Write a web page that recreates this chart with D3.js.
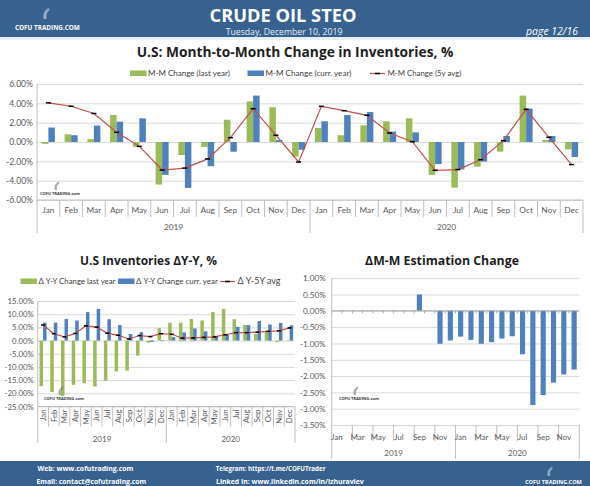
<!DOCTYPE html>
<html><head><meta charset="utf-8">
<script src="https://cdn.jsdelivr.net/npm/d3@7"></script>
<style>
body{margin:0;background:#fff;}
svg{display:block;}
</style></head>
<body>
<svg id="c" width="590" height="486"></svg>
<script>
// ---------- DATA ----------
const months = ["Jan","Feb","Mar","Apr","May","Jun","Jul","Aug","Sep","Oct","Nov","Dec"];
const years = ["2019","2020"];

// Chart 1: U.S: Month-to-Month Change in Inventories, %
const mmLastYear = [-0.2, 0.8, 0.3, 2.8, -0.5, -4.4, -1.35, -0.5, 2.3, 4.2, 3.6, -1.5,
                    1.45, 0.7, 1.72, 2.14, 2.45, -3.4, -4.72, -2.55, -1.0, 4.8, 0.2, -0.76];
const mmCurrYear = [1.5, 0.7, 1.7, 2.1, 2.45, -3.4, -4.75, -2.5, -1.0, 4.8, 0.2, -0.8,
                    2.14, 2.79, 3.1, 1.07, 1.0, -2.28, -2.83, -2.03, 0.62, 3.45, 0.62, -1.55];
const mm5yAvg    = [4.05, 3.7, 2.95, 1.0, -0.45, -2.9, -2.7, -1.75, 0.45, 3.45, 0.7, -2.07,
                    3.69, 3.24, 2.76, 0.93, 0.03, -2.93, -2.85, -1.83, 0.14, 3.38, 0.48, -2.34];
const mmTicks = [6, 4, 2, 0, -2, -4, -6];

// Chart 2: U.S Inventories ΔY-Y, %
const yyLastYear = [-17.3, -19.5, -21.0, -16.8, -16.2, -17.4, -15.2, -11.7, -11.4, -5.7, -0.8, 4.7,
                    6.8, 6.8, 8.2, 7.6, 10.8, 12.0, 8.1, 5.9, 2.5, 3.2, -0.5, 0.2];
const yyCurrYear = [6.8, 6.8, 8.2, 7.6, 10.8, 12.0, 8.1, 5.9, 2.5, 3.2, -0.5, 0.2,
                    1.3, 3.1, 4.6, 3.5, 1.8, 2.4, 5.2, 5.8, 7.4, 6.1, 6.7, 5.8];
const yy5yAvg    = [5.9, 2.6, 1.4, 2.7, 5.6, 5.1, 2.8, 2.0, 0.6, 1.9, 1.5, 2.6,
                    2.4, 0.9, 1.0, 1.2, 1.4, 2.2, 3.0, 3.0, 3.2, 3.5, 3.7, 4.8];
const yyTicks = [15, 10, 5, 0, -5, -10, -15, -20, -25];

// Chart 3: ΔM-M Estimation Change
const estChange = [0, 0, 0, 0, 0, 0, 0, 0, 0.5, 0, -1.01, -0.91,
                   -0.79, -0.89, -1.01, -0.96, -0.85, -0.78, -1.33, -2.89, -2.58, -2.2, -1.95, -1.8];
const estTicks = [1, 0.5, 0, -0.5, -1, -1.5, -2, -2.5, -3, -3.5];
const estLabelMonths = ["Jan", "Mar", "May", "Jul", "Sep", "Nov"];

// ---------- STYLE ----------
const GREEN = "#9bbb59", BLUE = "#4f81bd", RED = "#c0504d";
const HEAD = "#37618f";
const GRID = "#d9d9d9", AXIS = "#bfbfbf", LABEL = "#595959";
const FONT = "Lato, 'Liberation Sans', sans-serif";
const TFONT = "'Open Sans', 'Liberation Sans', sans-serif";

const cats = years.flatMap(y => months.map(m => y + "-" + m));
const svg = d3.select("#c");
const pct = d => (d < 0 ? "-" : "") + Math.abs(d).toFixed(2) + "%";

function fit(sel, w) {
  sel.each(function () {
    const cur = this.getComputedTextLength();
    const t = d3.select(this);
    if (cur > 0) t.attr("font-size", parseFloat(t.attr("font-size")) * w / cur);
  });
  return sel;
}

function swoosh(g, x, y, s, color) {
  for (let k = 0; k < 5; k++) {
    g.append("path")
      .attr("d", `M${x + k * 0.5 * s},${y} Q${x - 1.5 * s + k * 0.6 * s},${y - 6 * s} ${x + 4 * s + k * 0.3 * s},${y - 10 * s + k * 0.4 * s}`)
      .attr("fill", "none").attr("stroke", color).attr("stroke-width", 0.45 * s);
  }
}

function watermark(x, y) {
  const g = svg.append("g");
  swoosh(g, x + 15, y - 5, 0.85, "#777");
  g.append("text").attr("x", x).attr("y", y).attr("font-family", TFONT).attr("font-weight", 700)
    .attr("font-size", 4.6).attr("fill", "#333").text("COFU TRADING.com").call(fit, 40);
}

// ---------- HEADER / FOOTER ----------
svg.append("rect").attr("x", 0).attr("y", 0).attr("width", 590).attr("height", 37).attr("fill", HEAD);
svg.append("rect").attr("x", 0).attr("y", 37).attr("width", 590).attr("height", 3).attr("fill", "#e6eef7");
svg.append("text").attr("x", 283).attr("y", 22).attr("text-anchor", "middle").attr("fill", "#fff")
  .attr("font-family", TFONT).attr("font-weight", 700).attr("font-size", 19).text("CRUDE OIL STEO").call(fit, 147);
svg.append("text").attr("x", 284).attr("y", 34.5).attr("text-anchor", "middle").attr("fill", "#e8eef6")
  .attr("font-family", TFONT).attr("font-size", 8).text("Tuesday, December 10, 2019").call(fit, 117);
svg.append("text").attr("x", 578).attr("y", 34.5).attr("text-anchor", "end").attr("fill", "#fff")
  .attr("font-family", TFONT).attr("font-style", "italic").attr("font-size", 8).text("page 12/16").call(fit, 52);
swoosh(svg.append("g"), 44, 19, 1.1, "#cfd9e6");
svg.append("text").attr("x", 15).attr("y", 30).attr("fill", "#fff")
  .attr("font-family", TFONT).attr("font-weight", 700).attr("font-size", 6.5).text("COFU TRADING.COM").call(fit, 65);

svg.append("rect").attr("x", 0).attr("y", 461).attr("width", 590).attr("height", 25).attr("fill", HEAD);
const foot = [
  { t: "Web: www.cofutrading.com", x: 37.5, y: 470.5, w: 96 },
  { t: "Email: contact@cofutrading.com", x: 36.5, y: 484, w: 110 },
  { t: "Telegram: https://t.me/COFUTrader", x: 215.7, y: 470.5, w: 110 },
  { t: "Linked In: www.linkedin.com/in/izhuravlev", x: 216, y: 484, w: 148 },
  { t: "COFU TRADING.COM", x: 525, y: 483.5, w: 57 }
];
foot.forEach(f => svg.append("text").attr("x", f.x).attr("y", f.y).attr("fill", "#fff")
  .attr("font-family", TFONT).attr("font-weight", 700).attr("font-size", 7).text(f.t).call(fit, f.w));
swoosh(svg.append("g"), 548, 476, 0.9, "#cfd9e6");

// ---------- helpers ----------
function legendItem(g, x, y, type, color, label, tw, fs) {
  if (type === "bar") {
    g.append("rect").attr("x", x).attr("y", y - 3).attr("width", 16.5).attr("height", 5.5).attr("fill", color);
    g.append("text").attr("x", x + 18).attr("y", y + 2.8).attr("font-family", FONT).attr("font-size", fs)
      .attr("fill", "#404040").text(label).call(fit, tw);
  } else {
    g.append("line").attr("x1", x).attr("x2", x + 15).attr("y1", y).attr("y2", y).attr("stroke", RED).attr("stroke-width", 1.2);
    g.append("line").attr("x1", x + 5).attr("x2", x + 10).attr("y1", y).attr("y2", y).attr("stroke", "#000").attr("stroke-width", 1.5);
    g.append("text").attr("x", x + 17.5).attr("y", y + 2.8).attr("font-family", FONT).attr("font-size", fs)
      .attr("fill", "#404040").text(label).call(fit, tw);
  }
}

function yAxis(g, y, ticks, x0, x1, fs, pad) {
  const grid = g.append("g").attr("transform", `translate(${x0},0)`)
    .call(d3.axisLeft(y).tickValues(ticks).tickSize(-(x1 - x0)).tickFormat(""));
  grid.select(".domain").remove();
  grid.selectAll("line").attr("stroke", GRID).attr("stroke-width", 1);
  const lab = g.append("g").attr("transform", `translate(${x0},0)`)
    .call(d3.axisLeft(y).tickValues(ticks).tickSize(0).tickPadding(pad).tickFormat(pct));
  lab.select(".domain").remove();
  lab.selectAll("text").attr("font-family", FONT).attr("font-size", fs).attr("fill", LABEL);
}

function title(text, x, y, w) {
  svg.append("text").attr("x", x).attr("y", y).attr("text-anchor", "middle")
    .attr("font-family", TFONT).attr("font-weight", 700).attr("font-size", 14).attr("fill", "#1e1e1e")
    .text(text).call(fit, w);
}

function line(g, x, y, vals, markW) {
  const gen = d3.line().x((d, i) => x(cats[i]) + x.bandwidth() / 2).y(d => y(d));
  g.append("path").attr("d", gen(vals)).attr("fill", "none").attr("stroke", RED).attr("stroke-width", 1.2);
  g.selectAll(null).data(vals).join("line")
    .attr("x1", (d, i) => x(cats[i]) + x.bandwidth() / 2 - markW / 2)
    .attr("x2", (d, i) => x(cats[i]) + x.bandwidth() / 2 + markW / 2)
    .attr("y1", d => y(d)).attr("y2", d => y(d)).attr("stroke", "#000").attr("stroke-width", 1.5);
}

function groupedBars(g, x, y, series, outerPad) {
  const sub = d3.scaleBand().domain(series.map(s => s.key)).range([0, x.bandwidth()]).paddingInner(0).paddingOuter(outerPad);
  series.forEach(s => {
    g.selectAll(null).data(s.values).join("rect")
      .attr("x", (d, i) => x(cats[i]) + sub(s.key))
      .attr("width", sub.bandwidth())
      .attr("y", d => y(Math.max(0, d)))
      .attr("height", d => Math.abs(y(d) - y(0)))
      .attr("fill", s.color);
  });
}

function catSeparators(g, x, yTop, monthLen, yearLen, step) {
  const end = x.range()[1];
  cats.forEach((c, i) => {
    const isYear = i % 12 === 0;
    if (!isYear && i % step !== 0) return;
    g.append("line").attr("x1", x(c)).attr("x2", x(c)).attr("y1", yTop)
      .attr("y2", yTop + (isYear ? yearLen : monthLen)).attr("stroke", AXIS).attr("stroke-width", 1);
  });
  g.append("line").attr("x1", end).attr("x2", end).attr("y1", yTop).attr("y2", yTop + yearLen)
    .attr("stroke", AXIS).attr("stroke-width", 1);
}

function yearLabels(g, x, yb, fs) {
  years.forEach(yr => {
    const a = x(yr + "-Jan"), b = x(yr + "-Dec") + x.bandwidth();
    g.append("text").attr("x", (a + b) / 2).attr("y", yb).attr("text-anchor", "middle")
      .attr("font-family", FONT).attr("font-size", fs).attr("fill", LABEL).text(yr);
  });
}

// ---------- CHART 1 ----------
{
  const g = svg.append("g");
  const x = d3.scaleBand().domain(cats).range([37, 583]);
  const y = d3.scaleLinear().domain([-6, 6]).range([200, 84]);
  title("U.S: Month-to-Month Change in Inventories, %", 295, 57, 317);
  legendItem(g, 130, 73.5, "bar", GREEN, "M-M Change (last year)", 82, 8);
  legendItem(g, 247.5, 73.5, "bar", BLUE, "M-M Change (curr. year)", 86, 8);
  legendItem(g, 370, 73.5, "line", RED, "M-M Change (5y avg)", 74, 8);
  yAxis(g, y, mmTicks, 37, 583, 8.6, 4);
  groupedBars(g, x, y, [{ key: "last", values: mmLastYear, color: GREEN }, { key: "curr", values: mmCurrYear, color: BLUE }], 0.75);
  line(g, x, y, mm5yAvg, 5);
  g.append("line").attr("x1", 37).attr("x2", 583).attr("y1", y(-6)).attr("y2", y(-6)).attr("stroke", AXIS);
  g.append("line").attr("x1", 37).attr("x2", 37).attr("y1", y(6)).attr("y2", 200).attr("stroke", AXIS);
  catSeparators(g, x, 200, 17, 33, 1);
  const ax = g.append("g").attr("transform", "translate(0,200)")
    .call(d3.axisBottom(x).tickSize(0).tickPadding(7.5).tickFormat(c => c.split("-")[1]));
  ax.select(".domain").remove();
  ax.selectAll("text").attr("font-family", FONT).attr("font-size", 8.3).attr("fill", LABEL);
  yearLabels(g, x, 230, 8.3);
  watermark(40, 195);
}

// ---------- CHART 2 ----------
{
  const g = svg.append("g");
  const x = d3.scaleBand().domain(cats).range([37.7, 295]);
  const y = d3.scaleLinear().domain([-25, 15]).range([406.5, 301]);
  title("U.S Inventories ΔY-Y, %", 148.5, 265, 137);
  legendItem(g, 20.5, 281.5, "bar", GREEN, "Δ Y-Y Change last year", 77, 7.5);
  legendItem(g, 118, 281.5, "bar", BLUE, "Δ Y-Y Change curr. year", 82, 7.5);
  legendItem(g, 220, 281.5, "line", RED, "Δ Y-5Y avg", 43, 7.5);
  yAxis(g, y, yyTicks, 37.7, 295, 7.8, 4);
  groupedBars(g, x, y, [{ key: "last", values: yyLastYear, color: GREEN }, { key: "curr", values: yyCurrYear, color: BLUE }], 0.53);
  line(g, x, y, yy5yAvg, 4);
  g.append("line").attr("x1", 37.7).attr("x2", 295).attr("y1", y(-25)).attr("y2", y(-25)).attr("stroke", AXIS);
  g.append("line").attr("x1", 37.7).attr("x2", 37.7).attr("y1", y(15)).attr("y2", y(-25)).attr("stroke", AXIS);
  catSeparators(g, x, 406.5, 20, 36.5, 1);
  g.selectAll(null).data(cats).join("text")
    .attr("transform", c => `translate(${x(c) + x.bandwidth() / 2},409.5) rotate(-90)`)
    .attr("text-anchor", "end").attr("dy", "0.35em")
    .attr("font-family", FONT).attr("font-size", 7.8).attr("fill", LABEL)
    .text(c => c.split("-")[1]);
  yearLabels(g, x, 441.5, 8);
  watermark(44, 400);
}

// ---------- CHART 3 ----------
{
  const g = svg.append("g");
  const x = d3.scaleBand().domain(cats).range([331.7, 579.3]);
  const y = d3.scaleLinear().domain([-3.5, 1]).range([425, 278.2]);
  title("ΔM-M Estimation Change", 442, 265, 154);
  yAxis(g, y, estTicks, 331.7, 579.3, 8.2, 6);
  g.selectAll(null).data(estChange).join("rect")
    .attr("x", (d, i) => x(cats[i]) + x.bandwidth() * 0.25)
    .attr("width", x.bandwidth() * 0.5)
    .attr("y", d => y(Math.max(0, d)))
    .attr("height", d => Math.abs(y(d) - y(0)))
    .attr("fill", BLUE);
  g.append("line").attr("x1", 331.7).attr("x2", 579.3).attr("y1", y(0)).attr("y2", y(0)).attr("stroke", "#a6a6a6");
  cats.forEach(c => g.append("line").attr("x1", x(c)).attr("x2", x(c)).attr("y1", y(0)).attr("y2", y(0) + 2.5).attr("stroke", "#a6a6a6"));
  g.append("line").attr("x1", 331.7).attr("x2", 331.7).attr("y1", y(1)).attr("y2", y(-3.5)).attr("stroke", AXIS);
  catSeparators(g, x, 425, 16, 34, 2);
  g.selectAll(null).data(cats.filter(c => estLabelMonths.includes(c.split("-")[1]))).join("text")
    .attr("x", c => x(c) + x.bandwidth() / 2).attr("y", 439.5).attr("text-anchor", "middle")
    .attr("font-family", FONT).attr("font-size", 8).attr("fill", LABEL).text(c => c.split("-")[1]);
  yearLabels(g, x, 456, 8);
  watermark(339, 400);
}
</script>
</body></html>
